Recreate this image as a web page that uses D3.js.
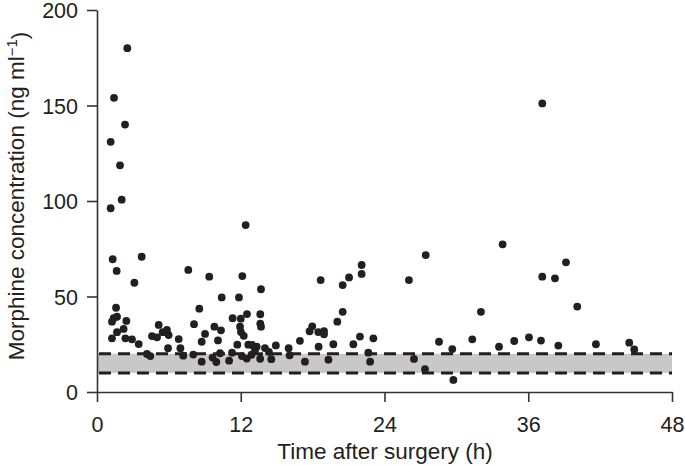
<!DOCTYPE html>
<html>
<head>
<meta charset="utf-8">
<script src="https://cdn.jsdelivr.net/npm/d3@7"></script>
<style>
  html, body { margin: 0; padding: 0; background: #fff; }
  svg { display: block; font-family: "Liberation Sans", Arial, Helvetica, sans-serif; }
</style>
</head>
<body>
<svg id="chart" width="685" height="465"></svg>
<script>
// Time after surgery (h)
const times = [
  2.53, 1.42, 2.34, 1.14, 1.92, 2.06, 1.14, 1.31, 1.64, 3.73, 3.12, 7.62,
  1.59, 1.39, 1.67, 2.45, 1.25, 2.22, 1.67, 1.25, 2.37, 2.92, 3.48, 5.15,
  4.59, 5.01, 5.48, 5.84, 5.98, 6.82, 5.93, 6.96, 4.17, 4.45, 7.20,
  8.10, 8.54, 9.02, 8.74, 8.04, 8.74, 9.37, 12.41, 12.13, 13.69, 10.41, 11.85,
  9.80, 10.35, 10.10, 11.32, 12.00, 12.52, 11.94, 12.02, 12.25, 13.63, 13.63, 13.69,
  11.71, 12.63, 12.95, 13.19, 14.02, 14.93, 14.35, 16.00, 16.94, 17.75,
  9.65, 9.96, 10.27, 11.03, 11.27, 12.10, 12.50, 12.90, 13.62, 14.55, 16.08, 17.36, 13.33,
  17.97, 18.47, 18.95, 18.95, 18.50, 19.32, 19.73, 20.06, 20.51, 18.67, 20.51, 21.04,
  22.09, 22.09, 21.40, 21.95, 23.07, 22.65, 22.80,
  26.04, 27.44, 26.46, 27.38, 37.17, 33.86, 37.17, 32.05, 28.55, 29.66, 31.33,
  33.56, 34.83, 36.06, 37.06, 29.75, 38.23, 39.15, 40.09, 38.51, 41.65, 44.43, 44.85
];
// Morphine concentration (ng/ml)
const concentrations = [
  180, 154, 140, 131, 118.7, 100.7, 96.2, 69.5, 63.4, 70.8, 57.2, 63.9,
  44.1, 38.6, 39.4, 37.2, 36.8, 33.0, 31.3, 28.1, 28.1, 27.6, 25.1, 35.1,
  29.3, 28.6, 31.3, 32.5, 29.8, 27.7, 22.9, 22.9, 19.9, 18.8, 19.0,
  35.5, 43.6, 30.4, 26.3, 19.6, 15.9, 60.4, 87.4, 60.7, 53.8, 49.5, 49.5,
  34.2, 32.3, 27.0, 38.6, 38.4, 40.8, 34.2, 31.4, 29.4, 40.7, 35.8, 34.2,
  24.8, 24.8, 24.6, 22.0, 23.0, 24.4, 21.0, 22.9, 26.8, 31.8,
  18.0, 15.7, 20.3, 16.4, 20.6, 18.8, 17.5, 19.5, 17.4, 17.2, 19.2, 15.9, 23.7,
  34.4, 31.4, 31.8, 30.2, 23.7, 16.9, 25.0, 36.8, 42.0, 58.6, 56.0, 60.0,
  66.5, 61.8, 25.0, 29.0, 28.1, 20.6, 15.9,
  58.6, 71.7, 17.3, 11.9, 151.1, 77.3, 60.4, 42.0, 26.3, 22.5, 27.6,
  23.7, 26.7, 28.6, 26.9, 6.3, 59.5, 67.9, 44.7, 24.3, 25.0, 25.8, 22.3
];
const xTicks = [0, 12, 24, 36, 48];
const yTicks = [0, 50, 100, 150, 200];
const rangeLow = 10, rangeHigh = 20;   // therapeutic range (ng/ml)

const ink = "#231f20";
const svg = d3.select("#chart");
const x = d3.scaleLinear().domain([0, 48]).range([97, 672]);
const y = d3.scaleLinear().domain([0, 200]).range([392, 10]);

// shaded band
svg.append("rect")
  .attr("x", x(0)).attr("width", x(48) - x(0))
  .attr("y", y(rangeHigh)).attr("height", y(rangeLow) - y(rangeHigh))
  .attr("fill", "#c8c8c8");

// dashed bounds
svg.selectAll("line.bound").data([rangeLow, rangeHigh]).enter().append("line")
  .attr("class", "bound")
  .attr("x1", x(0) + 2).attr("x2", x(48))
  .attr("y1", d => y(d)).attr("y2", d => y(d))
  .attr("stroke", ink).attr("stroke-width", 3)
  .attr("stroke-dasharray", "12,7");

// points
const pts = times.map((t, i) => ({ t, v: concentrations[i] }));
svg.selectAll("circle.pt").data(pts).enter().append("circle")
  .attr("class", "pt")
  .attr("cx", d => x(d.t)).attr("cy", d => y(d.v))
  .attr("r", 3.9).attr("fill", ink);

// axes
const tickFs = "21.5px";
const titleFs = "22.5px";
const yAxis = svg.append("g").attr("transform", `translate(${x(0)},0)`)
  .call(d3.axisLeft(y).tickValues(yTicks).tickSize(10).tickSizeOuter(0).tickPadding(9));
const xAxis = svg.append("g").attr("transform", `translate(0,${y(0)})`)
  .call(d3.axisBottom(x).tickValues(xTicks).tickSize(10).tickSizeOuter(0).tickPadding(15));
[yAxis, xAxis].forEach(g => {
  g.selectAll("path, line").attr("stroke", "#333").attr("stroke-width", 1.6);
  g.selectAll("text").attr("fill", "#222").style("font-size", tickFs)
    .style("font-family", "'Liberation Sans', Arial, Helvetica, sans-serif");
});
yAxis.selectAll("text").attr("dy", "0.36em");

// axis titles
svg.append("text")
  .attr("x", 385).attr("y", 459)
  .attr("text-anchor", "middle").attr("fill", "#222").style("font-size", titleFs)
  .text("Time after surgery (h)");

const yt = svg.append("text")
  .attr("transform", "translate(24,196) rotate(-90)")
  .attr("text-anchor", "middle").attr("fill", "#222").style("font-size", titleFs);
yt.append("tspan").text("Morphine concentration (ng ml");
yt.append("tspan").attr("dy", "-0.45em").style("font-size", "15px").text("\u22121");
yt.append("tspan").attr("dy", "0.45em").text(")");
</script>
</body>
</html>
